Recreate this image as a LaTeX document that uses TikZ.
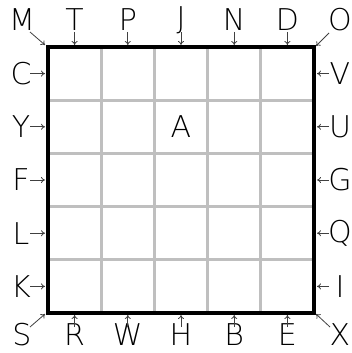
\documentclass[tikz,border=0pt]{standalone}
\usepackage{fontspec}
\setmainfont{DejaVu Sans ExtraLight}
\usetikzlibrary{arrows.meta}
\begin{document}
\begin{tikzpicture}[x=1pt,y=-1pt,
  lab/.style={font=\fontsize{30}{30}\selectfont, inner sep=0pt, anchor=center},
  conn/.style={draw=black!75, line width=0.8pt, -{To[length=4pt,width=6pt]}},
  gridline/.style={draw=black!25, line width=3pt},
  border/.style={draw=black, line width=3.5pt}]
\useasboundingbox (0,0) rectangle (352,353);
\def\xa{48}\def\ya{47}\def\cs{53.2}
% grid
\foreach \i in {1,...,4}{
  \draw[gridline] ({\xa+\i*\cs},\ya) -- ({\xa+\i*\cs},{\ya+5*\cs});
  \draw[gridline] (\xa,{\ya+\i*\cs}) -- ({\xa+5*\cs},{\ya+\i*\cs});
}
\draw[border] (\xa,\ya) rectangle ({\xa+5*\cs},{\ya+5*\cs});
\node[lab] (A) at ({\xa+2.5*\cs},{\ya+1.5*\cs}) {A};
% top
\foreach \n/\k in {T/0,P/1,J/2,N/3,D/4}{
  \node[lab] (\n) at ({\xa+(\k+0.5)*\cs},20) {\n};
  \coordinate (s\n) at ({\xa+(\k+0.5)*\cs},32);
  \coordinate (e\n) at ({\xa+(\k+0.5)*\cs},45);
  \draw[conn] (s\n) -- (e\n);
}
% bottom
\foreach \n/\k in {R/0,W/1,H/2,B/3,E/4}{
  \node[lab] (\n) at ({\xa+(\k+0.5)*\cs},335) {\n};
  \coordinate (s\n) at ({\xa+(\k+0.5)*\cs},327);
  \coordinate (e\n) at ({\xa+(\k+0.5)*\cs},315);
  \draw[conn] (s\n) -- (e\n);
}
% left
\foreach \n/\k in {C/0,Y/1,F/2,L/3,K/4}{
  \node[lab] (\n) at (21,{\ya+(\k+0.5)*\cs}) {\n};
  \coordinate (s\n) at (30,{\ya+(\k+0.5)*\cs});
  \coordinate (e\n) at (45,{\ya+(\k+0.5)*\cs});
  \draw[conn] (s\n) -- (e\n);
}
% right
\foreach \n/\k in {V/0,U/1,G/2,Q/3,I/4}{
  \node[lab] (\n) at (340,{\ya+(\k+0.5)*\cs}) {\n};
  \coordinate (s\n) at (329,{\ya+(\k+0.5)*\cs});
  \coordinate (e\n) at (317,{\ya+(\k+0.5)*\cs});
  \draw[conn] (s\n) -- (e\n);
}
% corners
\node[lab] (M) at (22,20) {M};
\node[lab] (O) at (340,20) {O};
\node[lab] (S) at (22,335) {S};
\node[lab] (X) at (340,335) {X};
\coordinate (sM) at (30,32); \coordinate (eM) at (45,45);
\coordinate (sO) at (329,33); \coordinate (eO) at (316,46);
\coordinate (sS) at (30,327); \coordinate (eS) at (45,314);
\coordinate (sX) at (330,327); \coordinate (eX) at (316,314);
\foreach \n in {M,O,S,X}{\draw[conn] (s\n) -- (e\n);}
\end{tikzpicture}
\end{document}
